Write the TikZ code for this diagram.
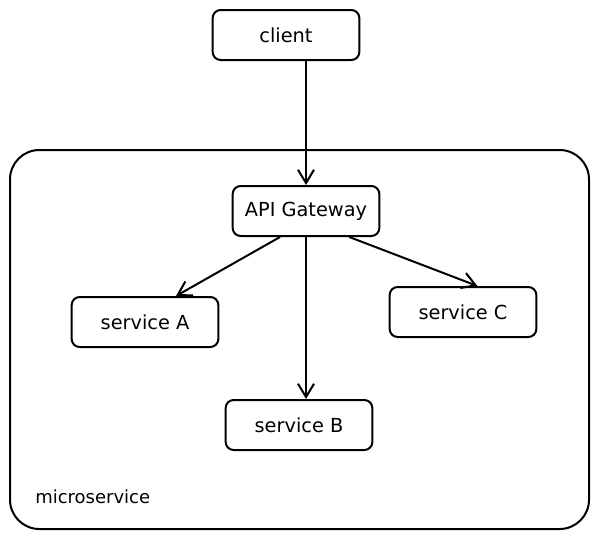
\documentclass[tikz,border=0pt]{standalone}
\usepackage{fontspec}
\setmainfont{DejaVu Sans}
\usepackage{tikz}
\usetikzlibrary{positioning}
\usetikzlibrary{arrows.meta}

\begin{document}
\begin{tikzpicture}
  [
    x=0.75pt, y=-0.75pt,
    box/.style={
      draw=black,
      line width=1.5pt,
      rounded corners=6pt,
      minimum width=110pt,
      minimum height=37.5pt,
      font=\fontsize{14.5}{17}\selectfont
    },
    ld/.style={line width=1.5pt,-{Straight Barb[length=10pt,width=12pt,line width=1.5pt]}}
  ]
  \useasboundingbox (0,0) rectangle (599,539);

  % frame of the services
  \draw [line width=1.5pt, rounded corners=22pt] (10,150) rectangle (589,529);
  \node (frame) [anchor=west, inner sep=0pt, font=\fontsize{13.5}{16}\selectfont] at (35,497) {microservice};

  \node (client) at (286,35)  [box] {client};
  \node (gw)     at (306,211) [box] {API Gateway};
  \node (svcA)   at (145,322) [box] {service A};
  \node (svcC)   at (463,312) [box] {service C};
  \node (svcB)   at (299,425) [box] {service B};

  \draw [ld] (gw.north |- client.south) -- (gw.north);
  \draw [ld] (gw.225) -- (svcA.40);
  \draw [ld] (gw.south) -- (gw.south |- svcB.north);
  \draw [ld] (gw.-31) -- (svcC.61);
\end{tikzpicture}
\end{document}
